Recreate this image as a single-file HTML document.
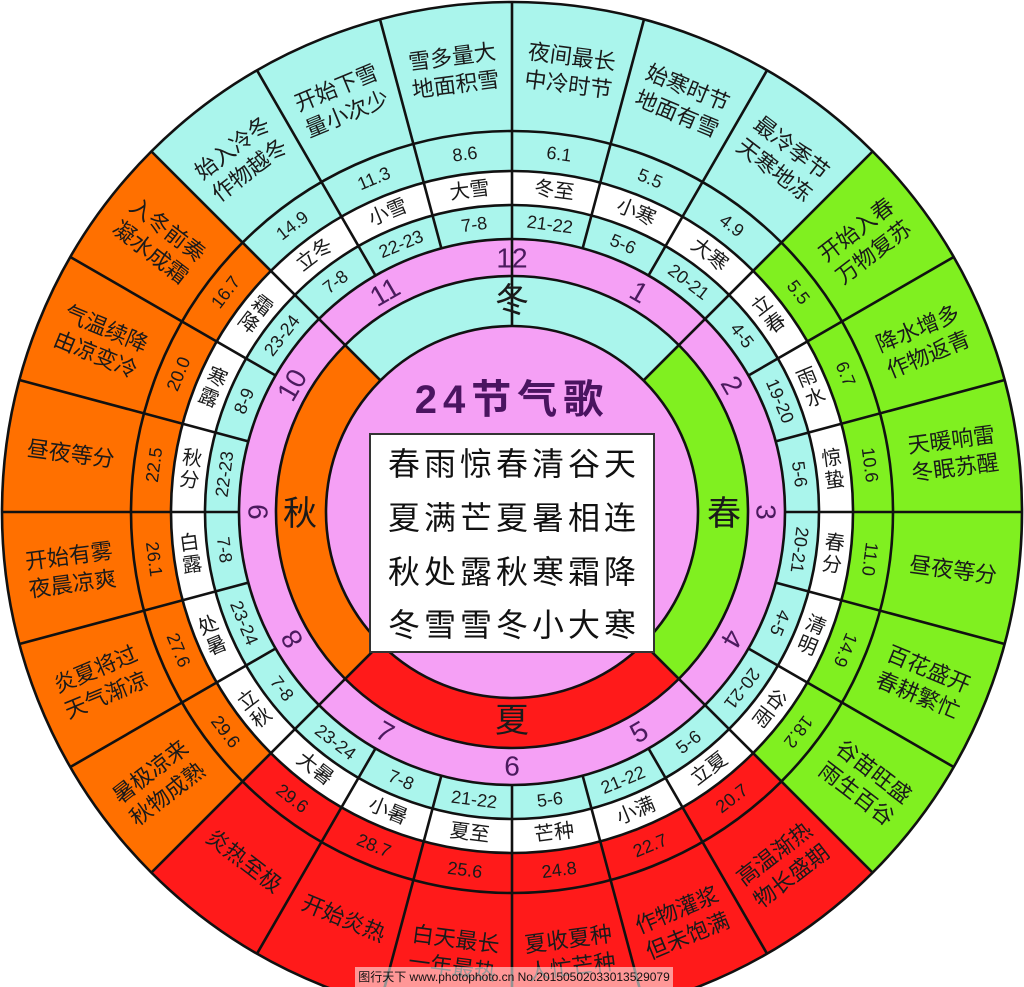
<!DOCTYPE html>
<html><head><meta charset="utf-8">
<style>
html,body{margin:0;padding:0;background:#fff;}
svg{display:block;}
text{font-family:"Liberation Sans","Noto Sans CJK SC",sans-serif;text-anchor:middle;dominant-baseline:central;fill:#1a1a1a;}
.o{font-size:22px;}
.n{font-size:20px;}
.d{font-size:18px;}
.m{font-size:28px;fill:#4b1a5e;font-weight:500;}
.s{font-size:34px;}
.p{font-size:32px;letter-spacing:4px;fill:#111;}
</style></head>
<body>
<svg width="1024" height="987" viewBox="0 0 1024 987" xmlns="http://www.w3.org/2000/svg">
<rect width="1024" height="987" fill="#fff"/>
<path d="M512 512 L151.4 151.4 A510 510 0 0 1 872.6 151.4 Z" fill="#aaf5ec"/>
<path d="M512 512 L872.6 151.4 A510 510 0 0 1 872.6 872.6 Z" fill="#80f020"/>
<path d="M512 512 L872.6 872.6 A510 510 0 0 1 151.4 872.6 Z" fill="#ff1a1a"/>
<path d="M512 512 L151.4 872.6 A510 510 0 0 1 151.4 151.4 Z" fill="#ff7000"/>
<circle cx="512" cy="512" r="341" fill="#fff"/>
<circle cx="512" cy="512" r="307" fill="#aaf5ec"/>
<circle cx="512" cy="512" r="273" fill="#f5a0f5"/>
<path d="M512 512 L345.1 345.1 A236 236 0 0 1 678.9 345.1 Z" fill="#aaf5ec"/>
<path d="M512 512 L678.9 345.1 A236 236 0 0 1 678.9 678.9 Z" fill="#80f020"/>
<path d="M512 512 L678.9 678.9 A236 236 0 0 1 345.1 678.9 Z" fill="#ff1a1a"/>
<path d="M512 512 L345.1 678.9 A236 236 0 0 1 345.1 345.1 Z" fill="#ff7000"/>
<circle cx="512" cy="512" r="186" fill="#f5a0f5"/>
<g fill="none" stroke="#111" stroke-width="2.6">
<circle cx="512" cy="512" r="510"/>
<circle cx="512" cy="512" r="381"/>
<circle cx="512" cy="512" r="341"/>
<circle cx="512" cy="512" r="307"/>
<circle cx="512" cy="512" r="273"/>
<circle cx="512" cy="512" r="236"/>
<circle cx="512" cy="512" r="186"/>
</g>
<g transform="translate(512 512)" stroke="#111" stroke-width="2.6">
<line x1="0" y1="-186" x2="0" y2="-510" transform="rotate(0)"/>
<line x1="0" y1="-273" x2="0" y2="-510" transform="rotate(15)"/>
<line x1="0" y1="-273" x2="0" y2="-510" transform="rotate(30)"/>
<line x1="0" y1="-186" x2="0" y2="-510" transform="rotate(45)"/>
<line x1="0" y1="-273" x2="0" y2="-510" transform="rotate(60)"/>
<line x1="0" y1="-273" x2="0" y2="-510" transform="rotate(75)"/>
<line x1="0" y1="-273" x2="0" y2="-510" transform="rotate(90)"/>
<line x1="0" y1="-273" x2="0" y2="-510" transform="rotate(105)"/>
<line x1="0" y1="-273" x2="0" y2="-510" transform="rotate(120)"/>
<line x1="0" y1="-186" x2="0" y2="-510" transform="rotate(135)"/>
<line x1="0" y1="-273" x2="0" y2="-510" transform="rotate(150)"/>
<line x1="0" y1="-273" x2="0" y2="-510" transform="rotate(165)"/>
<line x1="0" y1="-273" x2="0" y2="-510" transform="rotate(180)"/>
<line x1="0" y1="-273" x2="0" y2="-510" transform="rotate(195)"/>
<line x1="0" y1="-273" x2="0" y2="-510" transform="rotate(210)"/>
<line x1="0" y1="-186" x2="0" y2="-510" transform="rotate(225)"/>
<line x1="0" y1="-273" x2="0" y2="-510" transform="rotate(240)"/>
<line x1="0" y1="-273" x2="0" y2="-510" transform="rotate(255)"/>
<line x1="0" y1="-273" x2="0" y2="-510" transform="rotate(270)"/>
<line x1="0" y1="-273" x2="0" y2="-510" transform="rotate(285)"/>
<line x1="0" y1="-273" x2="0" y2="-510" transform="rotate(300)"/>
<line x1="0" y1="-186" x2="0" y2="-510" transform="rotate(315)"/>
<line x1="0" y1="-273" x2="0" y2="-510" transform="rotate(330)"/>
<line x1="0" y1="-273" x2="0" y2="-510" transform="rotate(345)"/>
</g>

<g transform="translate(512 512)">
<g transform="rotate(7.5) translate(0 -445)"><text class="o" y="-14">夜间最长</text><text class="o" y="14">中冷时节</text></g>
<g transform="rotate(22.5) translate(0 -445)"><text class="o" y="-14">始寒时节</text><text class="o" y="14">地面有雪</text></g>
<g transform="rotate(37.5) translate(0 -445)"><text class="o" y="-14">最冷季节</text><text class="o" y="14">天寒地冻</text></g>
<g transform="rotate(52.5) translate(0 -445) rotate(-90)"><text class="o" y="-14">开始入春</text><text class="o" y="14">万物复苏</text></g>
<g transform="rotate(67.5) translate(0 -445) rotate(-90)"><text class="o" y="-14">降水增多</text><text class="o" y="14">作物返青</text></g>
<g transform="rotate(82.5) translate(0 -445) rotate(-90)"><text class="o" y="-14">天暖响雷</text><text class="o" y="14">冬眠苏醒</text></g>
<g transform="rotate(97.5) translate(0 -445) rotate(-90)"><text class="o">昼夜等分</text></g>
<g transform="rotate(112.5) translate(0 -445) rotate(-90)"><text class="o" y="-14">百花盛开</text><text class="o" y="14">春耕繁忙</text></g>
<g transform="rotate(127.5) translate(0 -445) rotate(-90)"><text class="o" y="-14">谷苗旺盛</text><text class="o" y="14">雨生百谷</text></g>
<g transform="rotate(142.5) translate(0 -445) rotate(-180)"><text class="o" y="-14">高温渐热</text><text class="o" y="14">物长盛期</text></g>
<g transform="rotate(157.5) translate(0 -445) rotate(-180)"><text class="o" y="-14">作物灌浆</text><text class="o" y="14">但未饱满</text></g>
<g transform="rotate(172.5) translate(0 -445) rotate(-180)"><text class="o" y="-14">夏收夏种</text><text class="o" y="14">人忙芒种</text></g>
<g transform="rotate(187.5) translate(0 -445) rotate(-180)"><text class="o" y="-14">白天最长</text><text class="o" y="14">一年最热</text></g>
<g transform="rotate(202.5) translate(0 -440) rotate(-180)"><text class="o">开始炎热</text></g>
<g transform="rotate(217.5) translate(0 -440) rotate(-180)"><text class="o">炎热至极</text></g>
<g transform="rotate(232.5) translate(0 -445) rotate(90)"><text class="o" y="-14">暑极凉来</text><text class="o" y="14">秋物成熟</text></g>
<g transform="rotate(247.5) translate(0 -445) rotate(90)"><text class="o" y="-14">炎夏将过</text><text class="o" y="14">天气渐凉</text></g>
<g transform="rotate(262.5) translate(0 -445) rotate(90)"><text class="o" y="-14">开始有雾</text><text class="o" y="14">夜晨凉爽</text></g>
<g transform="rotate(277.5) translate(0 -445) rotate(90)"><text class="o">昼夜等分</text></g>
<g transform="rotate(292.5) translate(0 -445) rotate(90)"><text class="o" y="-14">气温续降</text><text class="o" y="14">由凉变冷</text></g>
<g transform="rotate(307.5) translate(0 -445) rotate(90)"><text class="o" y="-14">入冬前奏</text><text class="o" y="14">凝水成霜</text></g>
<g transform="rotate(322.5) translate(0 -445)"><text class="o" y="-14">始入冷冬</text><text class="o" y="14">作物越冬</text></g>
<g transform="rotate(337.5) translate(0 -445)"><text class="o" y="-14">开始下雪</text><text class="o" y="14">量小次少</text></g>
<g transform="rotate(352.5) translate(0 -445)"><text class="o" y="-14">雪多量大</text><text class="o" y="14">地面积雪</text></g>
</g>

<g transform="translate(512 512)">
<g transform="rotate(7.5) translate(0 -361)"><text class="d">6.1</text></g>
<g transform="rotate(22.5) translate(0 -361)"><text class="d">5.5</text></g>
<g transform="rotate(37.5) translate(0 -361)"><text class="d">4.9</text></g>
<g transform="rotate(52.5) translate(0 -361)"><text class="d">5.5</text></g>
<g transform="rotate(67.5) translate(0 -361)"><text class="d">6.7</text></g>
<g transform="rotate(82.5) translate(0 -361)"><text class="d">10.6</text></g>
<g transform="rotate(97.5) translate(0 -361)"><text class="d">11.0</text></g>
<g transform="rotate(112.5) translate(0 -361)"><text class="d">14.9</text></g>
<g transform="rotate(127.5) translate(0 -361)"><text class="d">18.2</text></g>
<g transform="rotate(142.5) translate(0 -361) rotate(-180)"><text class="d">20.7</text></g>
<g transform="rotate(157.5) translate(0 -361) rotate(-180)"><text class="d">22.7</text></g>
<g transform="rotate(172.5) translate(0 -361) rotate(-180)"><text class="d">24.8</text></g>
<g transform="rotate(187.5) translate(0 -361) rotate(-180)"><text class="d">25.6</text></g>
<g transform="rotate(202.5) translate(0 -361) rotate(-180)"><text class="d">28.7</text></g>
<g transform="rotate(217.5) translate(0 -361) rotate(-180)"><text class="d">29.6</text></g>
<g transform="rotate(232.5) translate(0 -361) rotate(-180)"><text class="d">29.6</text></g>
<g transform="rotate(247.5) translate(0 -361) rotate(-180)"><text class="d">27.6</text></g>
<g transform="rotate(262.5) translate(0 -361) rotate(-180)"><text class="d">26.1</text></g>
<g transform="rotate(277.5) translate(0 -361)"><text class="d">22.5</text></g>
<g transform="rotate(292.5) translate(0 -361)"><text class="d">20.0</text></g>
<g transform="rotate(307.5) translate(0 -361)"><text class="d">16.7</text></g>
<g transform="rotate(322.5) translate(0 -361)"><text class="d">14.9</text></g>
<g transform="rotate(337.5) translate(0 -361)"><text class="d">11.3</text></g>
<g transform="rotate(352.5) translate(0 -361)"><text class="d">8.6</text></g>
</g>

<g transform="translate(512 512)">
<g transform="rotate(7.5) translate(0 -324)"><text class="n">冬至</text></g>
<g transform="rotate(22.5) translate(0 -324)"><text class="n">小寒</text></g>
<g transform="rotate(37.5) translate(0 -324)"><text class="n">大寒</text></g>
<g transform="rotate(52.5) translate(0 -324) rotate(-90)"><text class="n" y="-11">立</text><text class="n" y="11">春</text></g>
<g transform="rotate(67.5) translate(0 -324) rotate(-90)"><text class="n" y="-11">雨</text><text class="n" y="11">水</text></g>
<g transform="rotate(82.5) translate(0 -324) rotate(-90)"><text class="n" y="-11">惊</text><text class="n" y="11">蛰</text></g>
<g transform="rotate(97.5) translate(0 -324) rotate(-90)"><text class="n" y="-11">春</text><text class="n" y="11">分</text></g>
<g transform="rotate(112.5) translate(0 -324) rotate(-90)"><text class="n" y="-11">清</text><text class="n" y="11">明</text></g>
<g transform="rotate(127.5) translate(0 -324) rotate(-90)"><text class="n" y="-11">谷</text><text class="n" y="11">雨</text></g>
<g transform="rotate(142.5) translate(0 -324) rotate(-180)"><text class="n">立夏</text></g>
<g transform="rotate(157.5) translate(0 -324) rotate(-180)"><text class="n">小满</text></g>
<g transform="rotate(172.5) translate(0 -324) rotate(-180)"><text class="n">芒种</text></g>
<g transform="rotate(187.5) translate(0 -324) rotate(-180)"><text class="n">夏至</text></g>
<g transform="rotate(202.5) translate(0 -324) rotate(-180)"><text class="n">小暑</text></g>
<g transform="rotate(217.5) translate(0 -324) rotate(-180)"><text class="n">大暑</text></g>
<g transform="rotate(232.5) translate(0 -324) rotate(90)"><text class="n" y="-11">立</text><text class="n" y="11">秋</text></g>
<g transform="rotate(247.5) translate(0 -324) rotate(90)"><text class="n" y="-11">处</text><text class="n" y="11">暑</text></g>
<g transform="rotate(262.5) translate(0 -324) rotate(90)"><text class="n" y="-11">白</text><text class="n" y="11">露</text></g>
<g transform="rotate(277.5) translate(0 -324) rotate(90)"><text class="n" y="-11">秋</text><text class="n" y="11">分</text></g>
<g transform="rotate(292.5) translate(0 -324) rotate(90)"><text class="n" y="-11">寒</text><text class="n" y="11">露</text></g>
<g transform="rotate(307.5) translate(0 -324) rotate(90)"><text class="n" y="-11">霜</text><text class="n" y="11">降</text></g>
<g transform="rotate(322.5) translate(0 -324)"><text class="n">立冬</text></g>
<g transform="rotate(337.5) translate(0 -324)"><text class="n">小雪</text></g>
<g transform="rotate(352.5) translate(0 -324)"><text class="n">大雪</text></g>
</g>

<g transform="translate(512 512)">
<g transform="rotate(7.5) translate(0 -290)"><text class="d">21-22</text></g>
<g transform="rotate(22.5) translate(0 -290)"><text class="d">5-6</text></g>
<g transform="rotate(37.5) translate(0 -290)"><text class="d">20-21</text></g>
<g transform="rotate(52.5) translate(0 -290)"><text class="d">4-5</text></g>
<g transform="rotate(67.5) translate(0 -290)"><text class="d">19-20</text></g>
<g transform="rotate(82.5) translate(0 -290)"><text class="d">5-6</text></g>
<g transform="rotate(97.5) translate(0 -290)"><text class="d">20-21</text></g>
<g transform="rotate(112.5) translate(0 -290)"><text class="d">4-5</text></g>
<g transform="rotate(127.5) translate(0 -290)"><text class="d">20-21</text></g>
<g transform="rotate(142.5) translate(0 -290) rotate(-180)"><text class="d">5-6</text></g>
<g transform="rotate(157.5) translate(0 -290) rotate(-180)"><text class="d">21-22</text></g>
<g transform="rotate(172.5) translate(0 -290) rotate(-180)"><text class="d">5-6</text></g>
<g transform="rotate(187.5) translate(0 -290) rotate(-180)"><text class="d">21-22</text></g>
<g transform="rotate(202.5) translate(0 -290) rotate(-180)"><text class="d">7-8</text></g>
<g transform="rotate(217.5) translate(0 -290) rotate(-180)"><text class="d">23-24</text></g>
<g transform="rotate(232.5) translate(0 -290) rotate(-180)"><text class="d">7-8</text></g>
<g transform="rotate(247.5) translate(0 -290) rotate(-180)"><text class="d">23-24</text></g>
<g transform="rotate(262.5) translate(0 -290) rotate(-180)"><text class="d">7-8</text></g>
<g transform="rotate(277.5) translate(0 -290)"><text class="d">22-23</text></g>
<g transform="rotate(292.5) translate(0 -290)"><text class="d">8-9</text></g>
<g transform="rotate(307.5) translate(0 -290)"><text class="d">23-24</text></g>
<g transform="rotate(322.5) translate(0 -290)"><text class="d">7-8</text></g>
<g transform="rotate(337.5) translate(0 -290)"><text class="d">22-23</text></g>
<g transform="rotate(352.5) translate(0 -290)"><text class="d">7-8</text></g>
</g>

<g transform="translate(512 512)">
<g transform="rotate(30) translate(0 -254)"><text class="m">1</text></g>
<g transform="rotate(60) translate(0 -254)"><text class="m">2</text></g>
<g transform="rotate(90) translate(0 -254)"><text class="m">3</text></g>
<g transform="rotate(120) translate(0 -254)"><text class="m">4</text></g>
<g transform="rotate(150) translate(0 -254) rotate(-180)"><text class="m">5</text></g>
<g transform="rotate(180) translate(0 -254) rotate(-180)"><text class="m">6</text></g>
<g transform="rotate(210) translate(0 -254) rotate(-180)"><text class="m">7</text></g>
<g transform="rotate(240) translate(0 -254)"><text class="m">8</text></g>
<g transform="rotate(270) translate(0 -254)"><text class="m">9</text></g>
<g transform="rotate(300) translate(0 -254)"><text class="m">10</text></g>
<g transform="rotate(330) translate(0 -254)"><text class="m">11</text></g>
<g transform="rotate(0) translate(0 -254)"><text class="m">12</text></g>
</g>

<text class="s" x="512" y="301">冬</text>
<text class="s" x="724" y="514">春</text>
<text class="s" x="512" y="721">夏</text>
<text class="s" x="300" y="514">秋</text>

<text x="512" y="400" style="font-size:40px;letter-spacing:6px;fill:#4a1460;font-weight:bold;">24节气歌</text>
<rect x="370" y="434" width="284" height="218" fill="#fff" stroke="#333" stroke-width="2"/>
<text class="p" x="514" y="464">春雨惊春清谷天</text>
<text class="p" x="514" y="518">夏满芒夏暑相连</text>
<text class="p" x="514" y="572">秋处露秋寒霜降</text>
<text class="p" x="514" y="625">冬雪雪冬小大寒</text>

<rect x="355" y="967" width="318" height="20" fill="#ffffff" opacity="0.55"/>
<text x="514" y="977" style="font-size:12px;fill:#111;">图行天下  www.photophoto.cn  No.20150502033013529079</text>
</svg>
</body></html>
